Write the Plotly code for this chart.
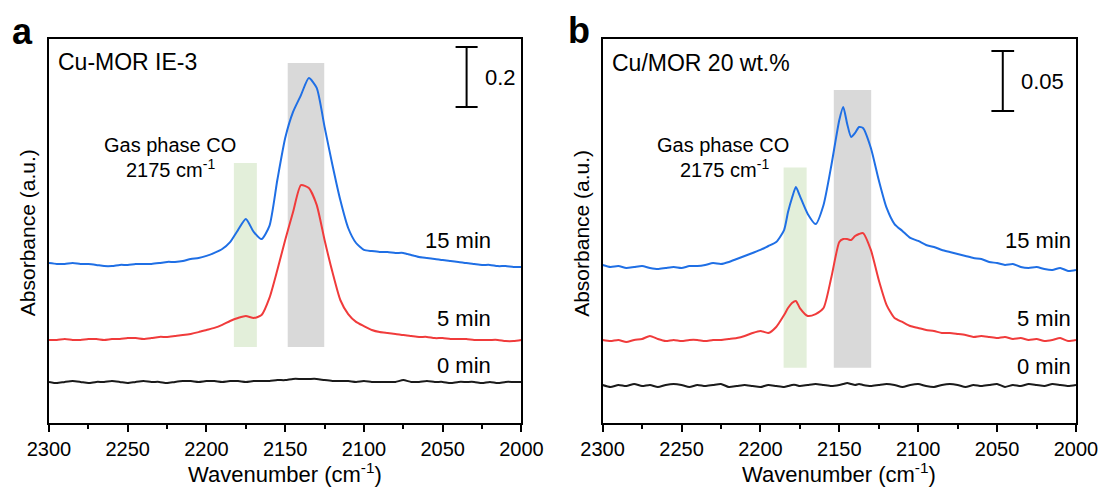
import plotly.graph_objects as go
from plotly.subplots import make_subplots

# ---------------- data ----------------
wn_a = [2300 - 5 * i for i in range(61)]

blue_a = [0.533, 0.530, 0.530, 0.533, 0.530, 0.530, 0.527, 0.523, 0.523, 0.527,
          0.527, 0.530, 0.530, 0.530, 0.533, 0.537, 0.537, 0.540, 0.547, 0.550,
          0.557, 0.567, 0.580, 0.603, 0.643, 0.680, 0.637, 0.613, 0.657, 0.810,
          0.950, 1.037, 1.093, 1.150, 1.117, 0.987, 0.860, 0.743, 0.650, 0.600,
          0.577, 0.573, 0.570, 0.570, 0.567, 0.567, 0.560, 0.553, 0.550, 0.547,
          0.543, 0.540, 0.537, 0.533, 0.530, 0.527, 0.527, 0.523, 0.523, 0.520,
          0.520]

red_a = [0.277, 0.277, 0.280, 0.277, 0.277, 0.280, 0.280, 0.277, 0.280, 0.280,
         0.283, 0.283, 0.280, 0.283, 0.287, 0.287, 0.290, 0.293, 0.297, 0.303,
         0.310, 0.317, 0.327, 0.340, 0.350, 0.357, 0.350, 0.360, 0.417, 0.510,
         0.610, 0.703, 0.793, 0.783, 0.727, 0.610, 0.503, 0.410, 0.363, 0.337,
         0.323, 0.310, 0.303, 0.300, 0.297, 0.293, 0.290, 0.287, 0.287, 0.283,
         0.283, 0.280, 0.280, 0.280, 0.277, 0.277, 0.277, 0.277, 0.273, 0.273,
         0.277]

black_a = [0.137, 0.133, 0.137, 0.140, 0.137, 0.133, 0.137, 0.137, 0.140, 0.137,
           0.133, 0.137, 0.140, 0.137, 0.137, 0.133, 0.137, 0.140, 0.140, 0.137,
           0.140, 0.140, 0.137, 0.140, 0.140, 0.137, 0.140, 0.140, 0.140, 0.143,
           0.143, 0.147, 0.147, 0.147, 0.147, 0.143, 0.140, 0.140, 0.140, 0.137,
           0.140, 0.137, 0.137, 0.137, 0.137, 0.143, 0.137, 0.137, 0.140, 0.137,
           0.137, 0.133, 0.137, 0.137, 0.137, 0.133, 0.137, 0.133, 0.137, 0.137,
           0.137]

wn_b = [2300, 2295, 2290, 2285, 2280, 2275, 2270, 2265, 2260, 2255,
        2250, 2245, 2240, 2235, 2230, 2225, 2220, 2215, 2210, 2205,
        2200, 2195, 2190, 2185, 2182.5, 2180, 2177.5, 2175, 2170, 2165,
        2160, 2155, 2150, 2147.5, 2145, 2142.5, 2140, 2137.5, 2135, 2130,
        2125, 2120, 2115, 2110, 2105, 2100, 2095, 2090, 2085, 2080,
        2075, 2070, 2065, 2060, 2055, 2050, 2045, 2040, 2035, 2030,
        2025, 2020, 2015, 2010, 2005, 2000]

blue_b = [0.1317, 0.1300, 0.1308, 0.1292, 0.1300, 0.1308, 0.1292, 0.1283, 0.1292, 0.1300,
          0.1292, 0.1308, 0.1308, 0.1317, 0.1333, 0.1325, 0.1342, 0.1367, 0.1392, 0.1417,
          0.1442, 0.1475, 0.1508, 0.1608, 0.1758, 0.1875, 0.1967, 0.1892, 0.1742, 0.1658,
          0.1817, 0.2150, 0.2525, 0.2633, 0.2492, 0.2383, 0.2417, 0.2467, 0.2458, 0.2292,
          0.2025, 0.1792, 0.1658, 0.1600, 0.1542, 0.1517, 0.1483, 0.1467, 0.1442, 0.1425,
          0.1408, 0.1392, 0.1375, 0.1367, 0.1342, 0.1333, 0.1317, 0.1325, 0.1300, 0.1292,
          0.1300, 0.1283, 0.1275, 0.1292, 0.1267, 0.1275]

red_b = [0.0692, 0.0683, 0.0692, 0.0675, 0.0692, 0.0700, 0.0725, 0.0700, 0.0683, 0.0692,
         0.0683, 0.0692, 0.0692, 0.0683, 0.0692, 0.0692, 0.0700, 0.0708, 0.0725, 0.0750,
         0.0767, 0.0750, 0.0800, 0.0900, 0.0958, 0.1000, 0.1017, 0.0958, 0.0892, 0.0908,
         0.0958, 0.1217, 0.1508, 0.1533, 0.1533, 0.1525, 0.1558, 0.1575, 0.1583, 0.1442,
         0.1192, 0.0983, 0.0875, 0.0842, 0.0808, 0.0792, 0.0775, 0.0767, 0.0750, 0.0750,
         0.0742, 0.0733, 0.0717, 0.0725, 0.0717, 0.0708, 0.0717, 0.0700, 0.0708, 0.0692,
         0.0700, 0.0683, 0.0692, 0.0708, 0.0683, 0.0692]

black_b = [0.0317, 0.0300, 0.0317, 0.0308, 0.0325, 0.0308, 0.0317, 0.0300, 0.0317, 0.0325,
           0.0317, 0.0300, 0.0317, 0.0308, 0.0317, 0.0325, 0.0300, 0.0308, 0.0317, 0.0308,
           0.0300, 0.0317, 0.0308, 0.0300, 0.0308, 0.0317, 0.0317, 0.0308, 0.0317, 0.0325,
           0.0317, 0.0308, 0.0317, 0.0325, 0.0333, 0.0325, 0.0317, 0.0325, 0.0317, 0.0308,
           0.0317, 0.0325, 0.0317, 0.0300, 0.0317, 0.0325, 0.0308, 0.0300, 0.0317, 0.0325,
           0.0317, 0.0300, 0.0317, 0.0308, 0.0317, 0.0325, 0.0300, 0.0317, 0.0308, 0.0325,
           0.0317, 0.0308, 0.0325, 0.0317, 0.0308, 0.0317]

x_ticks = [2300, 2250, 2200, 2150, 2100, 2050, 2000]
time_labels = ["15 min", "5 min", "0 min"]

# band regions: (x0, x1, y0, y1)
green_a = (2182.6, 2168.0, 0.253, 0.867)
gray_a = (2148.4, 2125.2, 0.253, 1.200)
green_b = (2185.3, 2170.7, 0.046, 0.213)
gray_b = (2153.5, 2129.8, 0.046, 0.2775)

# ---------------- figure ----------------
W, H = 1110, 487
ML, MR, MT, MB = 49, 24, 39, 64
PW = W - ML - MR
PH = H - MT - MB

def px(x):
    return (x - ML) / PW

def py(y):
    return (H - MB - y) / PH

fig = make_subplots(rows=1, cols=2, horizontal_spacing=(608 - 526) / PW)
fig.update_layout(xaxis=dict(domain=[0, (526 - ML) / PW]),
                  xaxis2=dict(domain=[(608 - ML) / PW, 1]))

BLUE = "#1f6fe5"
RED = "#f03b3b"
BLACK = "#1a1a1a"
FONT = "Arial, Liberation Sans, sans-serif"

for col, wn, ys in [(1, wn_a, (blue_a, red_a, black_a)), (2, wn_b, (blue_b, red_b, black_b))]:
    for y, c in zip(ys, (BLUE, RED, BLACK)):
        fig.add_trace(go.Scatter(x=wn, y=y, mode="lines",
                                 line=dict(color=c, width=2, shape="spline", smoothing=0.6),
                                 showlegend=False), row=1, col=col)

shapes = []
for xr, yr, (g, gr) in [("x", "y", (green_a, gray_a)), ("x2", "y2", (green_b, gray_b))]:
    shapes.append(dict(type="rect", xref=xr, yref=yr, x0=g[0], x1=g[1], y0=g[2], y1=g[3],
                       fillcolor="#e3efda", line=dict(width=0), layer="below"))
    shapes.append(dict(type="rect", xref=xr, yref=yr, x0=gr[0], x1=gr[1], y0=gr[2], y1=gr[3],
                       fillcolor="#d9d9d9", line=dict(width=0), layer="below"))

# scale bars
for xr, yr, xc, hw, y0, y1 in [("x", "y", 2034.8, 7.0, 1.053, 1.253), ("x2", "y2", 2046.4, 7.2, 0.26, 0.31)]:
    shapes.append(dict(type="line", xref=xr, yref=yr, x0=xc, x1=xc, y0=y0, y1=y1,
                       line=dict(color="black", width=2)))
    for yy in (y0, y1):
        shapes.append(dict(type="line", xref=xr, yref=yr, x0=xc + hw, x1=xc - hw, y0=yy, y1=yy,
                           line=dict(color="black", width=2)))

fig.update_layout(shapes=shapes)

ann = []
def A(text, x, y, xref="paper", yref="paper", size=18, xanchor="center", yanchor="middle", **kw):
    ann.append(dict(text=text, x=x, y=y, xref=xref, yref=yref, showarrow=False,
                    font=dict(family=FONT, size=size, color="black"),
                    xanchor=xanchor, yanchor=yanchor, **kw))

# panel letters
A("<b>a</b>", px(22), py(32), size=36)
A("<b>b</b>", px(584), py(30), size=36)
# sample labels
A("Cu-MOR IE-3", px(56), py(62), size=23, xanchor="left")
A("Cu/MOR 20 wt.%", px(615), py(63), size=23, xanchor="left")
# scale bar labels
A("0.2", 2024.2, 1.153, xref="x", yref="y", size=22, xanchor="left")
A("0.05", 2036.3, 0.285, xref="x2", yref="y2", size=22, xanchor="left")
# gas phase CO
A("Gas phase CO", px(171), py(145), size=20)
A("2175 cm<sup>-1</sup>", px(172), py(168), size=20)
A("Gas phase CO", px(730), py(145), size=20)
A("2175 cm<sup>-1</sup>", px(731), py(168), size=20)
# time labels
for (xr, yr, xx, yvals) in [("x", "y", 2018, (0.61, 0.35, 0.193)), ("x2", "y2", 2002, (0.1525, 0.0875, 0.0475))]:
    for t, yy in zip(time_labels, yvals):
        A(t, xx, yy, xref=xr, yref=yr, size=22, xanchor="right")
# axis titles
for cx in (28, 587):
    A("Absorbance (a.u.)", px(cx), py(233), size=21, textangle=-90)
for cx in ((49 + 526) / 2, (608 + 1086) / 2):
    A("Wavenumber (cm<sup>-1</sup>)", px(cx), py(473), size=22)

fig.update_layout(annotations=ann)

xax = dict(range=[2300, 2000], tickvals=x_ticks, ticks="outside", ticklen=7, tickwidth=2,
           tickcolor="black", showline=True, linecolor="black", linewidth=2, mirror=True,
           showgrid=False, zeroline=False, tickfont=dict(family=FONT, size=20, color="black"),
           minor=dict(tickvals=[2275, 2225, 2175, 2125, 2075, 2025], ticks="outside",
                      ticklen=4, tickwidth=2, tickcolor="black", showgrid=False))
fig.update_xaxes(**xax)
fig.update_yaxes(showticklabels=False, ticks="", showline=True, linecolor="black", linewidth=2,
                 mirror=True, showgrid=False, zeroline=False)
fig.update_yaxes(range=[0, 1.28], row=1, col=1)
fig.update_yaxes(range=[0, 0.32], row=1, col=2)

fig.update_layout(width=W, height=H, autosize=False, margin=dict(l=ML, r=MR, t=MT, b=MB),
                  plot_bgcolor="white", paper_bgcolor="white",
                  font=dict(family=FONT, color="black"))

fig.write_html("out.html", config={"displayModeBar": False},
               post_script="document.body.style.margin='0';document.body.style.overflow='hidden';")
